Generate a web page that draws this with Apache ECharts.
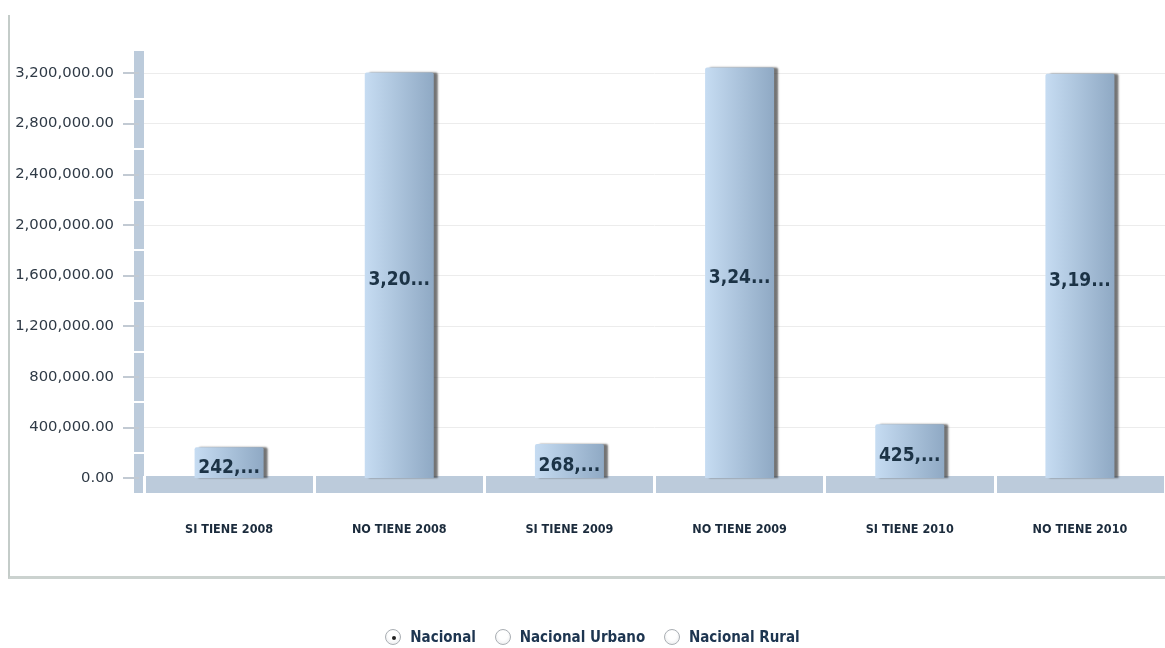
<!DOCTYPE html>
<html>
<head>
<meta charset="utf-8">
<script src="https://cdn.jsdelivr.net/npm/echarts@6/dist/echarts.min.js"></script>
<style>
  html, body { margin: 0; padding: 0; background: #fff; }
  #wrap { position: relative; width: 1165px; height: 648px; overflow: hidden; }
  #frame { position: absolute; left: 8px; top: 15px; width: 1170px; height: 561px;
           border-left: 2px solid #c4ccc9; border-bottom: 3px solid #cbd2cf; }
  #chart { position: absolute; left: 0; top: 0; width: 1165px; height: 648px; }
  #choices { position: absolute; left: 0; top: 628px; width: 1165px; text-align: center;
             font-family: 'DejaVu Sans Condensed', 'Liberation Sans Narrow', sans-serif;
             font-weight: bold; font-size: 15px; color: #1d3550; padding-left: 10px; }
  #choices label { margin: 0 7px; white-space: nowrap; }
  #choices input { -webkit-appearance: none; appearance: none; width: 16px; height: 16px;
                   margin: 0 9px 0 0; vertical-align: -3px; border: 1px solid #a9aeb3;
                   border-radius: 50%; background: radial-gradient(circle at 50% 40%, #ffffff 40%, #e4e6e8 100%);
                   position: relative; }
  #choices input:checked::after { content: ''; position: absolute; left: 5.5px; top: 5.5px;
                   width: 4px; height: 4px; border-radius: 50%; background: #222; }
</style>
</head>
<body>
<div id="wrap">
  <div id="frame"></div>
  <div id="chart"></div>
  <div id="choices">
    <label><input type="radio" name="ambito" checked>Nacional</label>
    <label><input type="radio" name="ambito">Nacional Urbano</label>
    <label><input type="radio" name="ambito">Nacional Rural</label>
  </div>
</div>
<script>
// Categories and values per group
const categories = ['SI TIENE 2008', 'NO TIENE 2008', 'SI TIENE 2009', 'NO TIENE 2009', 'SI TIENE 2010', 'NO TIENE 2010'];
const values = [242180, 3204350, 268410, 3243260, 425370, 3194720];
// Value axis tick labels
const yTicks = [0, 400000, 800000, 1200000, 1600000, 2000000, 2400000, 2800000, 3200000];
// Notches across the axis wall
const wallBreaks = [200000, 600000, 1000000, 1400000, 1800000, 2200000, 2600000, 3000000];
// Value range: the wall runs a little below zero so the floor sits under the bars
const yMin = -118500;
const yMax = 3374000;

const fmt = v => Number(v).toLocaleString('en-US', { minimumFractionDigits: 2, maximumFractionDigits: 2 });

const stripColor = '#bccbdb';

const chart = echarts.init(document.getElementById('chart'));
chart.setOption({
  animation: false,
  grid: { left: 144, right: -3, top: 51, bottom: 155, containLabel: false },
  xAxis: [
    {
      type: 'category',
      data: categories,
      offset: -8.5,
      axisLine: { show: true, onZero: false, lineStyle: { color: stripColor, width: 17, cap: 'butt' } },
      axisTick: { show: false },
      axisLabel: {
        margin: 39,
        fontFamily: "'DejaVu Sans Condensed', 'Liberation Sans Narrow', sans-serif",
        fontWeight: 'bold', fontSize: 12.5, color: '#1b2b3c'
      },
      splitLine: { show: false }
    },
    {
      type: 'category',
      data: categories,
      position: 'bottom',
      offset: 0,
      axisLine: { show: false, onZero: false },
      axisTick: { show: true, inside: true, length: 17, lineStyle: { color: '#ffffff', width: 3 } },
      axisLabel: { show: false },
      splitLine: { show: false }
    }
  ],
  yAxis: [
    {
      type: 'value',
      min: yMin,
      max: yMax,
      offset: 5,
      axisLine: { show: true, lineStyle: { color: stripColor, width: 10, cap: 'butt' } },
      axisTick: { show: true, length: 16, customValues: yTicks, lineStyle: { color: '#c2cad3', width: 2 } },
      axisLabel: {
        customValues: yTicks,
        margin: 25,
        formatter: v => fmt(v),
        fontFamily: "'DejaVu Sans', sans-serif",
        fontSize: 14.8, color: '#2f3a46'
      },
      splitLine: { show: true, lineStyle: { color: '#ececec', width: 1 } }
    },
    {
      type: 'value',
      min: yMin,
      max: yMax,
      position: 'left',
      offset: 0,
      axisLine: { show: false },
      axisTick: { show: true, length: 10, customValues: wallBreaks, lineStyle: { color: '#ffffff', width: 2 } },
      axisLabel: { show: false },
      splitLine: { show: false }
    }
  ],
  series: [{
    type: 'bar',
    data: values,
    barWidth: 69,
    itemStyle: {
      color: new echarts.graphic.LinearGradient(0, 0, 1, 0, [
        { offset: 0, color: '#c6dcf2' },
        { offset: 1, color: '#8fa9c4' }
      ]),
      borderRadius: [2, 2, 0, 0],
      shadowColor: 'rgba(40,40,40,0.65)',
      shadowBlur: 2,
      shadowOffsetX: 4,
      shadowOffsetY: 0
    },
    label: {
      show: true,
      position: 'inside',
      offset: [0, 5],
      formatter: p => fmt(p.value).slice(0, 4) + '...',
      fontFamily: "'DejaVu Sans Condensed', 'DejaVu Sans', sans-serif",
      fontWeight: 'bold',
      fontSize: 19,
      color: '#1c3346'
    }
  }]
});
</script>
</body>
</html>
